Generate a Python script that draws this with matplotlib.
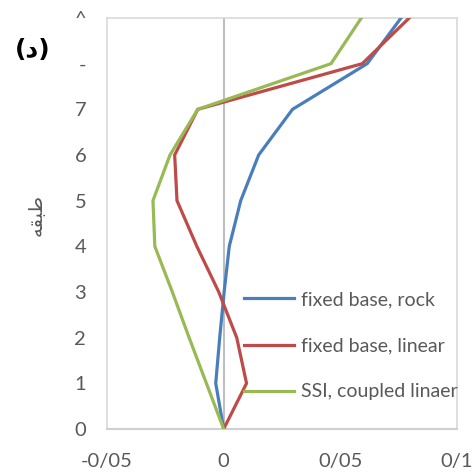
import matplotlib
matplotlib.use("Agg")
import matplotlib.pyplot as plt

floors = [0, 1, 2, 3, 4, 5, 6, 7, 8, 9]
fixed_rock = [0, -0.0034, -0.0017, 0.0002, 0.0024, 0.0073, 0.015, 0.0295, 0.0615, 0.076]
fixed_linear = [0, 0.0098, 0.0056, -0.0021, -0.0115, -0.020, -0.021, -0.0111, 0.0594, 0.0795]
ssi_coupled = [0, -0.0074, -0.0148, -0.022, -0.0295, -0.0303, -0.023, -0.0111, 0.046, 0.059]
series_names = ["fixed base, rock", "fixed base, linear", "SSI, coupled linaer"]
x_ticks = [-0.05, 0, 0.05, 0.1]
x_tick_labels = ["-0/05", "0", "0/05", "0/1"]
y_tick_labels = ["0", "1", "2", "3", "4", "5", "6", "7", "-", "^"]
y_label = "\uFEEA\uFED8\uFE92\uFEC3"  # طبقه (shaped, visual order)
panel_label = "(د)"

colors = ["#4A7EBB", "#BE4B48", "#98B954"]
txt = "#595959"

fig = plt.figure(figsize=(4.73, 4.73), dpi=100)
ax = fig.add_axes([107/473, 1-429/473, 350/473, 411/473])

for vals, name, c in zip([fixed_rock, fixed_linear, ssi_coupled], series_names, colors):
    ax.plot(vals, floors, color=c, lw=2.3, label=name, solid_joinstyle="miter", zorder=3)

ax.axvline(0, color="#BFBFBF", lw=1.5, zorder=1)
ax.set_xlim(-0.05, 0.1)
ax.set_ylim(0, 9)
ax.set_xticks(x_ticks)
ax.set_xticklabels(x_tick_labels)
ax.set_yticks(floors)
ax.set_yticklabels(y_tick_labels)
ax.tick_params(length=0, labelsize=14.5, colors=txt, labelfontfamily="Lato")
ax.tick_params(axis="y", pad=15)
ax.tick_params(axis="x", pad=17)
for s in ["top", "right", "left"]:
    ax.spines[s].set_color("#D9D9D9")
    ax.spines[s].set_linewidth(1.2)
ax.spines["bottom"].set_color("#D0D0D0")
ax.spines["bottom"].set_linewidth(1.5)

ax.set_ylabel(y_label, fontsize=14, color=txt, family="DejaVu Sans", labelpad=14)
ax.yaxis.set_label_coords(-0.175, 0.52)

fig.text(15/473, 1-50/473, panel_label, fontsize=18, fontweight="bold",
         family="DejaVu Sans", va="center", ha="left", color="black")

leg = ax.legend(loc="upper left", bbox_to_anchor=(0.34, 0.378), frameon=False,
                prop={"family": "Lato", "size": 14}, labelcolor=txt,
                handlelength=2.6, handletextpad=0.36, labelspacing=1.5)

fig.savefig("out.png", dpi=100)
